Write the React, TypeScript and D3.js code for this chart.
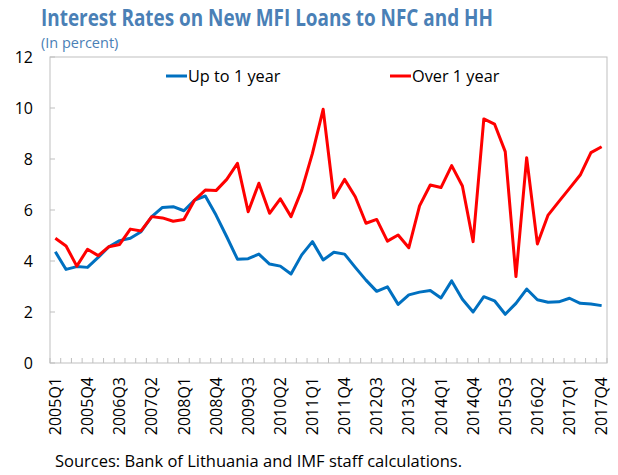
import React from "react";
import * as d3 from "d3";

const quarters: string[] = [];
for (let y = 2005; y <= 2017; y++) for (let q = 1; q <= 4; q++) quarters.push(`${y}Q${q}`);

const upTo1Year = [4.36,3.67,3.78,3.75,4.14,4.56,4.8,4.89,5.15,5.74,6.1,6.13,5.97,6.39,6.55,5.8,4.95,4.07,4.09,4.27,3.88,3.8,3.49,4.24,4.76,4.04,4.34,4.27,3.75,3.25,2.81,2.99,2.3,2.67,2.78,2.84,2.55,3.22,2.5,2.0,2.6,2.44,1.91,2.34,2.9,2.48,2.38,2.4,2.54,2.34,2.31,2.25];
const over1Year = [4.89,4.59,3.8,4.46,4.21,4.56,4.65,5.25,5.18,5.74,5.69,5.56,5.63,6.39,6.78,6.76,7.2,7.83,5.93,7.05,5.87,6.44,5.74,6.78,8.22,9.95,6.48,7.2,6.52,5.48,5.63,4.78,5.02,4.52,6.16,6.98,6.88,7.74,6.94,4.76,9.57,9.37,8.29,3.39,8.05,4.67,5.8,6.33,6.85,7.37,8.25,8.48];
const yTicks = [0, 2, 4, 6, 8, 10, 12];
const labelEvery = 3;

const W = 618, H = 475;
const L = 50, R = 607, T = 57, B = 363;
const FONT = "'Open Sans', sans-serif";

export default function App() {
  const x = d3.scaleBand<string>().domain(quarters).range([L, R]).paddingInner(0).paddingOuter(0);
  const y = d3.scaleLinear().domain([0, 12]).range([B, T]);
  const cx = (i: number) => (x(quarters[i]) as number) + x.bandwidth() / 2;
  const line = d3.line<number>().x((_, i) => cx(i)).y((d) => y(d));
  const bounds = d3.range(quarters.length + 1).map((k) => L + k * x.bandwidth());

  return (
    <svg width={W} height={H} style={{ position: "absolute", left: 0, top: 0 }} fontFamily={FONT}>
      <rect x={0} y={0} width={W} height={H} fill="#fff" />
      <text x={41} y={26} fontSize={23} fontWeight={700} fill="#4a80b6" textLength={452} lengthAdjust="spacingAndGlyphs">
        Interest Rates on New MFI Loans to NFC and HH
      </text>
      <text x={41} y={48} fontSize={14.5} fill="#4a80b6">(In percent)</text>

      <rect x={L} y={T} width={R - L} height={B - T} fill="none" stroke="#bfbfbf" strokeWidth={1} />
      {yTicks.map((t) => (
        <g key={t}>
          <line x1={L} x2={L + 5} y1={y(t)} y2={y(t)} stroke="#bfbfbf" />
          <text x={33} y={y(t)} dy="0.35em" textAnchor="end" fontSize={16} fill="#000">{t}</text>
        </g>
      ))}
      {bounds.map((b, k) => (
        <line key={k} x1={b} x2={b} y1={B} y2={B - 5} stroke="#bfbfbf" />
      ))}
      {quarters.map((q, i) =>
        i % labelEvery === 0 ? (
          <text key={q} transform={`translate(${cx(i)},377) rotate(-90)`} textAnchor="end" dy="0.35em" fontSize={16} fill="#000">
            {q}
          </text>
        ) : null
      )}

      <path d={line(upTo1Year) as string} fill="none" stroke="#0070c0" strokeWidth={3} strokeLinejoin="round" />
      <path d={line(over1Year) as string} fill="none" stroke="#ff0000" strokeWidth={3} strokeLinejoin="round" />

      <line x1={166} x2={187} y1={76} y2={76} stroke="#0070c0" strokeWidth={3} />
      <text x={188} y={76} dy="0.35em" fontSize={16.3} fill="#000">Up to 1 year</text>
      <line x1={390} x2={411} y1={76} y2={76} stroke="#ff0000" strokeWidth={3} />
      <text x={412} y={76} dy="0.35em" fontSize={16.3} fill="#000">Over 1 year</text>

      <text x={55} y={467} fontSize={16.5} fill="#000">Sources: Bank of Lithuania and IMF staff calculations.</text>
    </svg>
  );
}
